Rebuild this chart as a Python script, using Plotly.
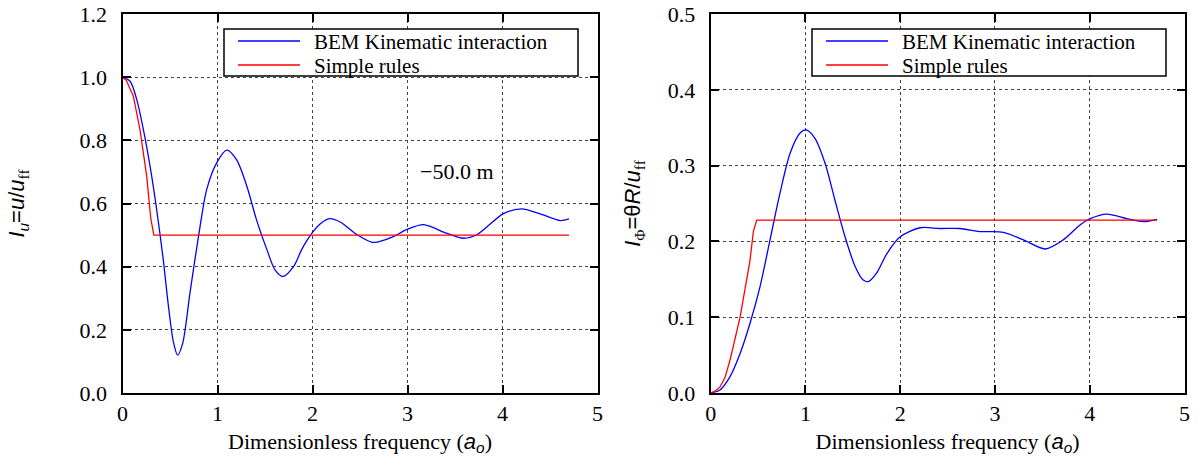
import plotly.graph_objects as go

# ---------------- data ----------------
freq_bem_u = [0, 0.08, 0.15, 0.22, 0.29, 0.36, 0.43, 0.48, 0.535, 0.58, 0.634, 0.71,
              0.80, 0.886, 0.99, 1.097, 1.20, 1.31, 1.41, 1.52, 1.605, 1.69, 1.80,
              1.886, 1.97, 2.08, 2.18, 2.30, 2.45, 2.63, 2.71, 2.85, 2.99, 3.17,
              3.41, 3.59, 3.73, 4.01, 4.20, 4.39, 4.61, 4.70]
iu_bem = [1.0, 0.987, 0.929, 0.834, 0.718, 0.58, 0.42, 0.284, 0.163, 0.12, 0.158, 0.316,
          0.496, 0.644, 0.728, 0.769, 0.739, 0.654, 0.549, 0.454, 0.39, 0.369, 0.40,
          0.454, 0.496, 0.535, 0.552, 0.540, 0.505, 0.477, 0.48, 0.495, 0.517, 0.533,
          0.506, 0.49, 0.501, 0.568, 0.583, 0.568, 0.546, 0.551]

freq_rule_u = [0, 0.04, 0.114, 0.184, 0.255, 0.297, 0.33, 4.70]
iu_rule = [1.0, 0.99, 0.94, 0.834, 0.686, 0.554, 0.5, 0.5]

freq_bem_phi = [0, 0.098, 0.204, 0.31, 0.415, 0.52, 0.626, 0.73, 0.837, 0.943, 1.006,
                1.10, 1.207, 1.31, 1.418, 1.524, 1.61, 1.665, 1.75, 1.86, 2.0, 2.21,
                2.42, 2.63, 2.84, 3.09, 3.30, 3.53, 3.72, 3.90, 4.005, 4.18, 4.39,
                4.57, 4.71]
iphi_bem = [0, 0.004, 0.0215, 0.052, 0.092, 0.14, 0.202, 0.263, 0.316, 0.343, 0.347,
            0.336, 0.303, 0.255, 0.206, 0.167, 0.149, 0.147, 0.158, 0.184, 0.206, 0.218,
            0.217, 0.217, 0.213, 0.212, 0.202, 0.19, 0.202, 0.222, 0.230, 0.236, 0.230,
            0.226, 0.229]

freq_rule_phi = [0, 0.05, 0.098, 0.15, 0.204, 0.31, 0.415, 0.45, 0.486, 4.71]
iphi_rule = [0, 0.003, 0.008, 0.02, 0.0435, 0.10, 0.175, 0.213, 0.228, 0.228]

x_ticks = [0, 1, 2, 3, 4, 5]
iu_ticks = [0.0, 0.2, 0.4, 0.6, 0.8, 1.0, 1.2]
iphi_ticks = [0.0, 0.1, 0.2, 0.3, 0.4, 0.5]

series_names = ["BEM Kinematic interaction", "Simple rules"]
depth_label = "\u221250.0 m"

# ---------------- style ----------------
BLUE = "#0000ff"
RED = "#ff0000"
COLORS = [BLUE, RED]
SERIF = "Liberation Serif"
FS = 22
LEG_FS = 21
W, H = 1201, 467


def px_x(p):
    return p / W


def px_y(p):
    return 1 - p / H


fig = go.Figure()
fig.add_trace(go.Scatter(x=freq_bem_u, y=iu_bem, mode="lines", name=series_names[0],
                         line=dict(color=BLUE, width=1.3, shape="spline", smoothing=0.8),
                         xaxis="x", yaxis="y", showlegend=False))
fig.add_trace(go.Scatter(x=freq_rule_u, y=iu_rule, mode="lines", name=series_names[1],
                         line=dict(color=RED, width=1.3), xaxis="x", yaxis="y",
                         showlegend=False))
fig.add_trace(go.Scatter(x=freq_bem_phi, y=iphi_bem, mode="lines", name=series_names[0],
                         line=dict(color=BLUE, width=1.3, shape="spline", smoothing=0.8),
                         xaxis="x2", yaxis="y2", showlegend=False))
fig.add_trace(go.Scatter(x=freq_rule_phi, y=iphi_rule, mode="lines", name=series_names[1],
                         line=dict(color=RED, width=1.3), xaxis="x2", yaxis="y2",
                         showlegend=False))

axis_common = dict(showline=True, linecolor="black", linewidth=2, mirror="allticks",
                   ticks="inside", ticklen=8, tickwidth=1.5, tickcolor="black",
                   showgrid=True, gridcolor="#444444", griddash="dot", gridwidth=1,
                   zeroline=False, automargin=False,
                   tickfont=dict(family=SERIF, size=FS, color="black"))

xtitle = ("Dimensionless frequency (<span style='font-family:Liberation Sans'>"
          "<i>a<sub>o</sub></i></span>)")

ydom = [1 - 393 / H, 1 - 14 / H]

# ---- compact legend boxes (pixel layout of the reference) ----
legend_boxes = [(224, 578), (812, 1166)]   # left / right edges of each box
box_top, box_bottom = 29, 76
row_y = [41, 65]
sample_dx = (14, 76)
text_dx = 89

shapes = []
annotations = []
for (bx0, bx1) in legend_boxes:
    shapes.append(dict(type="rect", xref="paper", yref="paper",
                       x0=px_x(bx0), x1=px_x(bx1), y0=px_y(box_bottom), y1=px_y(box_top),
                       line=dict(color="black", width=1.5), fillcolor="white", layer="above"))
    for name, col, ry in zip(series_names, COLORS, row_y):
        shapes.append(dict(type="line", xref="paper", yref="paper",
                           x0=px_x(bx0 + sample_dx[0]), x1=px_x(bx0 + sample_dx[1]),
                           y0=px_y(ry), y1=px_y(ry),
                           line=dict(color=col, width=1.3), layer="above"))
        annotations.append(dict(text=name, xref="paper", yref="paper",
                                x=px_x(bx0 + text_dx), y=px_y(ry + 1),
                                xanchor="left", yanchor="middle", showarrow=False,
                                borderpad=0,
                                font=dict(family=SERIF, size=LEG_FS, color="black")))

annotations.append(dict(text=depth_label, x=3.11, y=0.70, xref="x", yref="y",
                        xanchor="left", yanchor="middle", showarrow=False,
                        font=dict(family=SERIF, size=FS, color="black")))

fig.update_layout(
    width=W, height=H,
    margin=dict(l=0, r=0, t=0, b=0),
    paper_bgcolor="white", plot_bgcolor="white",
    font=dict(family=SERIF, size=FS, color="black"),
    showlegend=False,
    xaxis=dict(axis_common, domain=[122.5 / W, 597.5 / W], range=[0, 5],
               tickvals=x_ticks, anchor="y",
               title=dict(text=xtitle, font=dict(family=SERIF, size=FS), standoff=8)),
    yaxis=dict(axis_common, domain=ydom, range=[0, 1.2], tickvals=iu_ticks,
               tickformat=".1f", anchor="x", ticklabelstandoff=9,
               title=dict(text="<span style='font-family:Liberation Sans'><i>I<sub>u</sub></i>"
                               "=<i>u</i>/<i>u</i></span><sub>ff</sub>",
                          font=dict(family=SERIF, size=FS), standoff=49)),
    xaxis2=dict(axis_common, domain=[710.7 / W, 1184.5 / W], range=[0, 5],
                tickvals=x_ticks, anchor="y2",
                title=dict(text=xtitle, font=dict(family=SERIF, size=FS), standoff=8)),
    yaxis2=dict(axis_common, domain=ydom, range=[0, 0.5], tickvals=iphi_ticks,
                tickformat=".1f", anchor="x2", ticklabelstandoff=9,
                title=dict(text="<span style='font-family:Liberation Sans'><i>I</i></span>"
                                "<sub>\u03a6</sub><span style='font-family:Liberation Sans'>"
                                "=\u03b8<i>R</i>/<i>u</i></span><sub>ff</sub>",
                           font=dict(family=SERIF, size=FS), standoff=21)),
    shapes=shapes,
    annotations=annotations,
)

fig.write_html("out.html")
